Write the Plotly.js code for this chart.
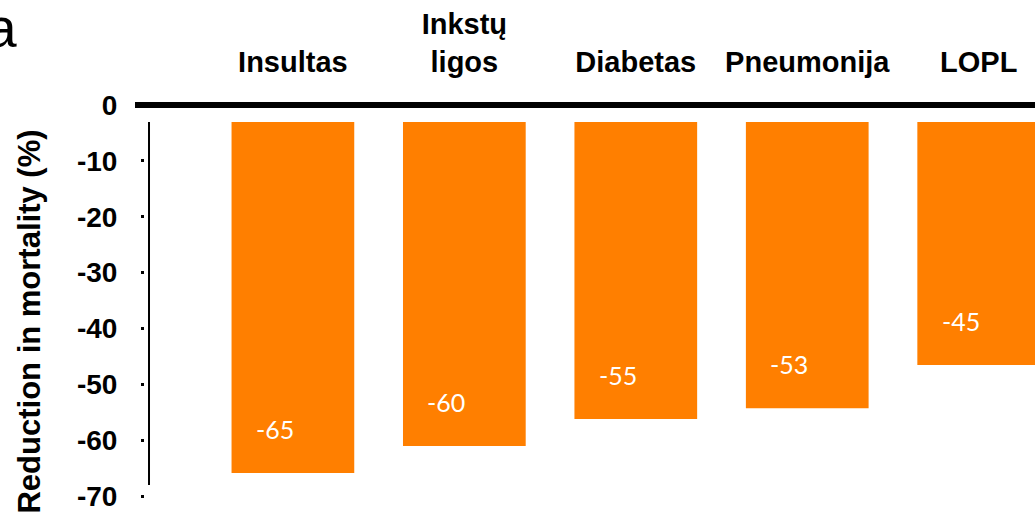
<!DOCTYPE html>
<html>
<head>
<meta charset="utf-8">
<script src="https://cdn.plot.ly/plotly-3.0.1.min.js"></script>
<style>html,body{margin:0;padding:0;background:#fff;}#chart{width:1035px;height:519px;}</style>
</head>
<body>
<div id="chart"></div>
<script>
const categories = ["Insultas", "Inkstų<br>ligos", "Diabetas", "Pneumonija", "LOPL"];
const values = [-65, -60, -55, -53, -45];
const valueLabels = ["-65", "-60", "-55", "-53", "-45"];
const tickValues = [0, -10, -20, -30, -40, -50, -60, -70];
const tickLabels = ["0", "-10", "-20", "-30", "-40", "-50", "-60", "-70"];
const yTitle = "Reduction in mortality (%)";
const panelLetter = "a";

const FONT = "Liberation Sans, Arial, sans-serif";
const ORANGE = "#FF7F00";

const bars = {
  type: "bar",
  x: categories,
  y: values,
  width: 0.7157,
  marker: {color: ORANGE, line: {width: 0}},
  hoverinfo: "skip",
  yaxis: "y",
  xaxis: "x"
};
// invisible trace to activate the label axis
const labelAxisTrace = {
  type: "scatter",
  x: [categories[0]],
  y: [tickValues[0]],
  mode: "markers",
  marker: {opacity: 0},
  yaxis: "y2",
  xaxis: "x",
  hoverinfo: "skip",
  showlegend: false
};

const annotations = values.map((v, i) => ({
  x: categories[i], y: v, xref: "x", yref: "y",
  text: valueLabels[i], showarrow: false,
  xshift: -18, yshift: 44,
  font: {family: "Lato, Open Sans, sans-serif", size: 25, color: "#ffffff"}
}));
annotations.push({
  x: -0.1303, y: 0.4714, xref: "paper", yref: "paper",
  text: "<b>" + yTitle + "</b>", textangle: -90, showarrow: false,
  xanchor: "center", yanchor: "middle",
  font: {family: FONT, size: 31, color: "#000"}
});
annotations.push({
  x: -0.1420, y: 1.093, xref: "paper", yref: "paper",
  text: panelLetter, showarrow: false,
  xanchor: "right", yanchor: "bottom",
  font: {family: "Liberation Sans, Arial", size: 55, color: "#000"}
});

const layout = {
  width: 1035, height: 519,
  margin: {l: 145, r: 0, t: 100, b: 0, pad: 0},
  paper_bgcolor: "#fff", plot_bgcolor: "rgba(0,0,0,0)",
  showlegend: false,
  font: {family: FONT, color: "#000"},
  xaxis: {
    type: "category",
    side: "top",
    range: [-0.8626, 4.3284],
    showgrid: false, zeroline: false, showline: false,
    ticks: "", ticklabelstandoff: 21,
    tickfont: {family: FONT, size: 29, color: "#000", weight: "bold"},
    fixedrange: true
  },
  yaxis: {
    range: [-73.52, 4.07],
    showgrid: false, zeroline: false, showline: false,
    showticklabels: false, ticks: "",
    fixedrange: true
  },
  yaxis2: {
    overlaying: "y", side: "left", anchor: "x",
    range: [-74.11, 0.895],
    tickvals: tickValues, ticktext: tickLabels,
    ticks: "outside", ticklen: 3, tickwidth: 3, tickcolor: "#000",
    ticklabelstandoff: 18,
    tickfont: {family: FONT, size: 28, color: "#000", weight: "bold"},
    showgrid: false, zeroline: false, showline: false,
    fixedrange: true
  },
  shapes: [
    {type: "line", xref: "paper", yref: "y2", x0: -0.01124, x1: 1, y0: 0, y1: 0,
     line: {color: "#000", width: 6}},
    {type: "line", xref: "paper", yref: "paper", x0: 0.0045, x1: 0.0045, y0: 0.9475, y1: 0.0811,
     line: {color: "#000", width: 2}}
  ],
  annotations: annotations
};

Plotly.newPlot("chart", [bars, labelAxisTrace], layout, {staticPlot: true, displayModeBar: false});
</script>
</body>
</html>
